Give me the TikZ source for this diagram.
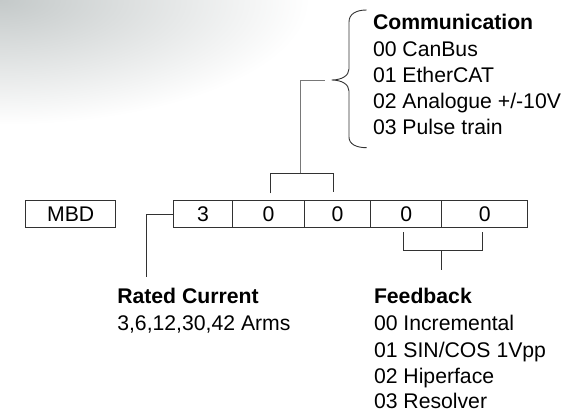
\documentclass[tikz,border=0pt]{standalone}
\usepackage{fontspec}
\setmainfont{Liberation Sans}
\definecolor{bgc}{RGB}{196,201,201}
\definecolor{linec}{RGB}{50,50,50}
\definecolor{stemc}{RGB}{120,120,120}
\begin{document}
\begin{tikzpicture}[x=1pt,y=-1pt,
  every node/.style={inner sep=0pt, outer sep=0pt, font=\fontsize{21.2}{26}\selectfont},
  cell/.style={draw=linec, line width=1pt, minimum height=26.6pt, anchor=north west},
  lbl/.style={anchor=base west},
  head/.style={anchor=base west, font=\fontsize{21.2}{26}\selectfont\bfseries},
  conn/.style={draw=linec, line width=1pt},
  stem/.style={draw=stemc, line width=1pt},
]
\useasboundingbox (0,0) rectangle (584,415);
\begin{scope}
  \clip (0,0) rectangle (584,415);
  \shade[inner color=bgc, outer color=white] (0,0) ellipse [x radius=310pt, y radius=125pt];
\end{scope}

% boxes
\node[cell, minimum width=90pt] (mbd) at (25.7,200.7) {MBD};
\node[cell, minimum width=59.4pt] (c1) at (173.3,200.7) {3};
\node[cell, minimum width=71.6pt] (c2) at (232.7,200.7) {0};
\node[cell, minimum width=66.4pt] (c3) at (304.3,200.7) {0};
\node[cell, minimum width=71pt]   (c4) at (370.7,200.7) {0};
\node[cell, minimum width=86pt]   (c5) at (441.7,200.7) {0};

% rated current connector
\coordinate (rcEnd) at (146,277);
\draw[conn] (c1.west) -| (rcEnd);

% top bracket
\coordinate (tbL) at (270.3,193.3);
\coordinate (tbLt) at (270.3,173.3);
\coordinate (tbRt) at (333.7,173.3);
\coordinate (tbR) at (333.7,191.7);
\draw[conn] (tbL) -- (tbLt) -- (tbRt) -- (tbR);
\coordinate (stemBot) at (300,173.3);
\coordinate (stemTop) at (300,80);
\coordinate (stemEnd) at (325,80);
\draw[stem] (stemBot) -- (stemTop) -- (stemEnd);

% brace
\coordinate (braceTip) at (331.7,80);
\draw[conn, line width=0.9pt] (366.7,10) .. controls (356,10) and (349,14) .. (349,22)
  -- (349,69) .. controls (349,76) and (341,80) .. (braceTip)
  .. controls (341,80) and (349,84) .. (349,91)
  -- (349,137) .. controls (349,144) and (356,147.7) .. (366.7,147.7);

% bottom bracket
\coordinate (bbL) at (403.3,232.3);
\coordinate (bbLb) at (403.3,250);
\coordinate (bbRb) at (482,250);
\coordinate (bbR) at (482,232.3);
\draw[conn] (bbL) -- (bbLb) -- (bbRb) -- (bbR);
\coordinate (bsTop) at (441,250);
\coordinate (bsEnd) at (441,270);
\draw[conn] (bsTop) -- (bsEnd);

% communication text
\node[head] (comm) at (373,30) {Communication};
\node[lbl] (comm0) at (373,56) {00 CanBus};
\node[lbl] (comm1) at (373,82) {01 EtherCAT};
\node[lbl] (comm2) at (373,108) {02 Analogue +/-10V};
\node[lbl] (comm3) at (373,134) {03 Pulse train};

% rated current text
\node[head] (rc) at (117.3,303.3) {Rated Current};
\node[lbl] (rc0) at (117.3,330.7) {3,6,12,30,42 Arms};

% feedback text
\node[head] (fb) at (374,303.3) {Feedback};
\node[lbl] (fb0) at (374,330.7) {00 Incremental};
\node[lbl] (fb1) at (374,357) {01 SIN/COS 1Vpp};
\node[lbl] (fb2) at (374,383) {02 Hiperface};
\node[lbl] (fb3) at (374,408.5) {03 Resolver};
\end{tikzpicture}
\end{document}
